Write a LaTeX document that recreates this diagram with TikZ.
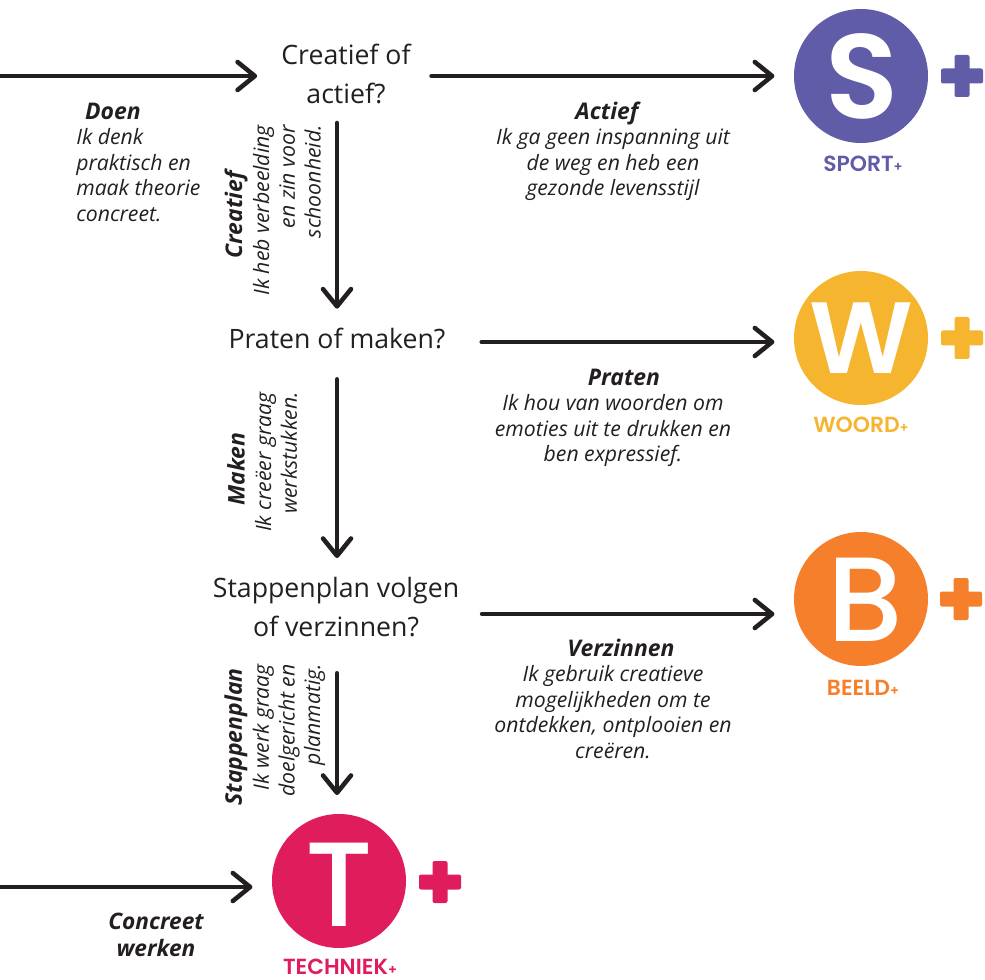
\documentclass[tikz,border=0pt]{standalone}
\usepackage{fontspec}
\setmainfont{Open Sans}
\newfontfamily\logofont{Poppins Medium}
\newfontfamily\logoheavy{Poppins SemiBold}
\newfontfamily\brandfont{Poppins SemiBold}
\usetikzlibrary{arrows.meta}
\definecolor{ink}{HTML}{231F20}
\definecolor{sportc}{HTML}{615CA8}
\definecolor{woordc}{HTML}{F5B52E}
\definecolor{beeldc}{HTML}{F57F2B}
\definecolor{techc}{HTML}{DF1C5C}
\tikzset{
  conn/.style={draw=ink,line width=3.4pt,line cap=round,-{Straight Barb[length=13pt,width=21pt,round,line width=3.4pt]}},
  question/.style={text=ink,align=center,inner sep=0pt,font=\fontsize{20}{29.5}\selectfont},
  ttl/.style={text=ink,inner sep=0pt,font=\fontsize{17.2}{19.3}\selectfont\bfseries\itshape},
  bodytxt/.style={text=ink,inner sep=0pt,font=\fontsize{15.9}{19.3}\selectfont\itshape},
  disc/.style={circle,minimum size=100.5pt,inner sep=0pt},
  letter/.style={inner sep=0pt,text=white,font=\fontsize{90}{90}\selectfont\logofont},
  brand/.style={inner sep=0pt,font=\fontsize{16.4}{18}\selectfont\brandfont},
}
\newcommand{\smallplus}{{\fontsize{10}{10}\selectfont +}}
\newcommand{\plusmark}[3]{%
  \fill[#3,rounded corners=1.5pt] (#1-21,#2-7.5) rectangle (#1+21,#2+7.5);
  \fill[#3,rounded corners=1.5pt] (#1-7.5,#2-21) rectangle (#1+7.5,#2+21);}
\begin{document}
\begin{tikzpicture}[x=0.75pt,y=-0.75pt]
\useasboundingbox (0,0) rectangle (985,980);
% discs
\node[disc,fill=sportc] (s) at (861,76) {};
\node[disc,fill=woordc] (w) at (861,338) {};
\node[disc,fill=beeldc] (b) at (861,599) {};
\node[disc,fill=techc] (t) at (339,881) {};
\node[letter,font=\fontsize{90}{90}\selectfont\logoheavy] (sletter) at (862,76) {S};
\node[letter,font=\fontsize{76}{76}\selectfont\logoheavy] (wletter) at (861,338) {W};
\node[letter] (bletter) at (865,600) {B};
\node[letter] (tletter) at (339,885) {T};
\plusmark{962}{76}{sportc}
\plusmark{962}{338}{woordc}
\plusmark{961}{599}{beeldc}
\plusmark{440}{882}{techc}
\node[brand,text=sportc] (sl) at (863,164) {SPORT\smallplus};
\node[brand,text=woordc] (wl) at (861,425) {WOORD\smallplus};
\node[brand,text=beeldc] (bl) at (863,688) {BEELD\smallplus};
\node[brand,text=techc] (tl) at (340,967) {TECHNIEK\smallplus};
% questions
\node[question] (q1) at (346,74) {Creatief of\\actief?};
\node[question] (q2) at (337,338) {Praten of maken?};
\node[question] (q3) at (336,607) {Stappenplan volgen\\of verzinnen?};
\coordinate (in1) at (0,76);
\coordinate (in2) at (0,887);
% connectors
\draw[conn,shorten >=18pt] (in1) -- (q1.west |- in1);
\draw[conn,shorten <=15.5pt,shorten >=14.5pt] (q1.east |- s.center) -- (s.west);
\draw[conn,shorten <=14pt,shorten >=14pt] (q2.north |- q1.south) -- (q2.north);
\draw[conn,shorten <=27pt,shorten >=14.5pt] (q2.east |- 0,342) -- (w.west |- 0,342);
\draw[conn,shorten <=23pt,shorten >=14pt] (q2.south) -- (q3.north -| q2.south);
\draw[conn,shorten <=17pt,shorten >=14.5pt] (q3.east |- 0,614) -- (b.west |- 0,614);
\draw[conn,shorten <=27pt,shorten >=14pt] (q3.south -| q2.south) -- (t.north -| q2.south);
\draw[conn,shorten >=14.5pt] (in2) -- (t.west |- in2);
% horizontal labels
\node[ttl] (ldoen) at (113,111) {Doen};
\node[bodytxt,align=left,anchor=north west] (bdoen) at (76,128) {Ik denk\\praktisch en\\maak theorie\\concreet.};
\node[ttl] (lactief) at (607,113) {Actief};
\node[bodytxt,align=center,anchor=north] (bactief) at (613,128) {Ik ga geen inspanning uit\\de weg en heb een\\gezonde levensstijl};
\node[ttl] (lpraten) at (624,377) {Praten};
\node[bodytxt,align=center,anchor=north] (bpraten) at (613,394) {Ik hou van woorden om\\emoties uit te drukken en\\ben expressief.};
\node[ttl] (lverz) at (621,648) {Verzinnen};
\node[bodytxt,align=center,anchor=north] (bverz) at (613,665) {Ik gebruik creatieve\\mogelijkheden om te\\ontdekken, ontplooien en\\creëren.};
\node[ttl,align=center,font=\fontsize{17}{20.5}\selectfont\bfseries\itshape] (lconc) at (156,935) {Concreet\\werken};
% rotated labels
\node[ttl,rotate=90] (lcre) at (236,215) {Creatief};
\node[bodytxt,rotate=90,align=right,anchor=east] (bcre) at (287,125) {Ik heb verbeelding\\en zin voor\\schoonheid.};
\node[ttl,rotate=90] (lmak) at (236,469) {Maken};
\node[bodytxt,rotate=90,align=right,anchor=east] (bmak) at (276,392) {Ik creëer graag\\werkstukken.};
\node[ttl,rotate=90] (lsta) at (236,737) {Stappenplan};
\node[bodytxt,rotate=90,align=right,anchor=east] (bsta) at (289,664) {Ik werk graag\\doelgericht en\\planmatig.};
\end{tikzpicture}
\end{document}
